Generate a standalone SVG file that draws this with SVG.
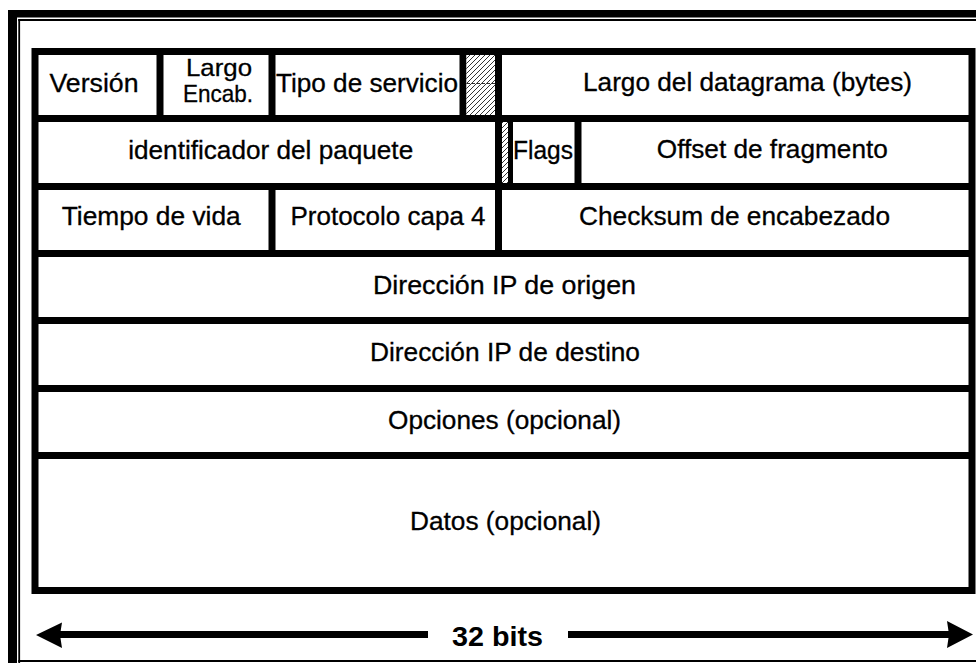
<svg xmlns="http://www.w3.org/2000/svg" width="976" height="663" viewBox="0 0 976 663">
<style>
  .ln { stroke:#000; stroke-width:7; fill:none; }
  .t { font-family:"Liberation Sans", Arial, sans-serif; font-size:25px; fill:#000; stroke:#000; stroke-width:0.3; text-anchor:middle; }
  .ts { font-family:"Liberation Sans", Arial, sans-serif; font-size:24px; fill:#000; stroke:#000; stroke-width:0.3; text-anchor:middle; }
  .tb { font-family:"Liberation Sans", Arial, sans-serif; font-size:28.5px; font-weight:bold; fill:#000; text-anchor:middle; }
</style>
<defs>
  <pattern id="hatch" patternUnits="userSpaceOnUse" width="5" height="5">
    <rect width="5" height="5" fill="#fff"/>
    <path d="M-1,6 L6,-1 M-1,1 L1,-1 M4,6 L6,4" stroke="#000" stroke-width="0.8"/>
  </pattern>
</defs>
<rect width="976" height="663" fill="#fff"/>

<g id="frame">
  <rect x="8" y="10" width="968" height="7.5" fill="#000"/>
  <rect x="8" y="10" width="9" height="653" fill="#000"/>
  <rect x="18.3" y="19" width="957.7" height="2" fill="#000"/>
  <rect x="18.3" y="19" width="1.8" height="644" fill="#000"/>
  <rect x="18.3" y="660" width="957.7" height="2" fill="#000"/>
</g>

<g id="table">
  <rect class="ln" x="35" y="51.5" width="937" height="539"/>
  <line class="ln" x1="35" y1="118.5" x2="972" y2="118.5"/>
  <line class="ln" x1="35" y1="186.5" x2="972" y2="186.5"/>
  <line class="ln" x1="35" y1="253.5" x2="972" y2="253.5"/>
  <line class="ln" x1="35" y1="320.5" x2="972" y2="320.5"/>
  <line class="ln" x1="35" y1="388.5" x2="972" y2="388.5"/>
  <line class="ln" x1="35" y1="455.5" x2="972" y2="455.5"/>
</g>

<g id="version">
  <text class="t" x="94" y="92" textLength="89" lengthAdjust="spacingAndGlyphs">Versión</text>
</g>
<g id="largo-encab">
  <line class="ln" x1="160" y1="55" x2="160" y2="115"/>
  <text class="ts" x="219" y="76" textLength="66" lengthAdjust="spacingAndGlyphs">Largo</text>
  <text class="ts" x="218" y="102" textLength="70" lengthAdjust="spacingAndGlyphs">Encab.</text>
</g>
<g id="tipo-servicio">
  <line class="ln" x1="272" y1="55" x2="272" y2="115"/>
  <text class="t" x="367" y="92" textLength="182" lengthAdjust="spacingAndGlyphs">Tipo de servicio</text>
</g>
<g id="reservado-1">
  <line class="ln" x1="463" y1="55" x2="463" y2="115"/>
  <rect x="466.5" y="55" width="28.5" height="60" fill="url(#hatch)"/>
  <line x1="467" y1="83.5" x2="495" y2="83.5" stroke="#000" stroke-width="0.8" stroke-dasharray="3,2"/>
  <line class="ln" x1="498.5" y1="55" x2="498.5" y2="115"/>
</g>
<g id="largo-datagrama">
  <text class="t" x="747.5" y="91" textLength="329" lengthAdjust="spacingAndGlyphs">Largo del datagrama (bytes)</text>
</g>

<g id="identificador">
  <text class="t" x="270.7" y="159" textLength="285" lengthAdjust="spacingAndGlyphs">identificador del paquete</text>
</g>
<g id="reservado-2">
  <line class="ln" x1="498.5" y1="122" x2="498.5" y2="183"/>
  <rect x="502" y="122" width="6" height="61" fill="url(#hatch)"/>
  <line x1="510.5" y1="122" x2="510.5" y2="183" stroke="#000" stroke-width="5"/>
</g>
<g id="flags">
  <text class="t" x="543" y="159" textLength="60" lengthAdjust="spacingAndGlyphs">Flags</text>
  <line class="ln" x1="578" y1="122" x2="578" y2="183"/>
</g>
<g id="offset">
  <text class="t" x="772.3" y="158" textLength="231" lengthAdjust="spacingAndGlyphs">Offset de fragmento</text>
</g>

<g id="tiempo-vida">
  <text class="t" x="151.2" y="225" textLength="179" lengthAdjust="spacingAndGlyphs">Tiempo de vida</text>
</g>
<g id="protocolo">
  <line class="ln" x1="272" y1="190" x2="272" y2="250"/>
  <text class="t" x="388" y="225" textLength="195" lengthAdjust="spacingAndGlyphs">Protocolo capa 4</text>
</g>
<g id="checksum">
  <line class="ln" x1="498.5" y1="190" x2="498.5" y2="250"/>
  <text class="t" x="734.5" y="225" textLength="311" lengthAdjust="spacingAndGlyphs">Checksum de encabezado</text>
</g>

<g id="ip-origen">
  <text class="t" x="504.5" y="294" textLength="263" lengthAdjust="spacingAndGlyphs">Dirección IP de origen</text>
</g>
<g id="ip-destino">
  <text class="t" x="505" y="361" textLength="270" lengthAdjust="spacingAndGlyphs">Dirección IP de destino</text>
</g>
<g id="opciones">
  <text class="t" x="504.5" y="429" textLength="233" lengthAdjust="spacingAndGlyphs">Opciones (opcional)</text>
</g>
<g id="datos">
  <text class="t" x="505.5" y="530" textLength="191" lengthAdjust="spacingAndGlyphs">Datos (opcional)</text>
</g>

<g id="connectors">
  <line x1="58" y1="634.5" x2="428" y2="634.5" stroke="#000" stroke-width="7"/>
  <line x1="568" y1="634.5" x2="950" y2="634.5" stroke="#000" stroke-width="7"/>
  <path d="M36,635 L62,622.5 L60,635 L62,648 Z" fill="#000"/>
  <path d="M973,634.5 L947,621 L949,634.5 L947,648 Z" fill="#000"/>
  <text class="tb" x="497.5" y="646" textLength="91" lengthAdjust="spacingAndGlyphs">32 bits</text>
</g>
</svg>
